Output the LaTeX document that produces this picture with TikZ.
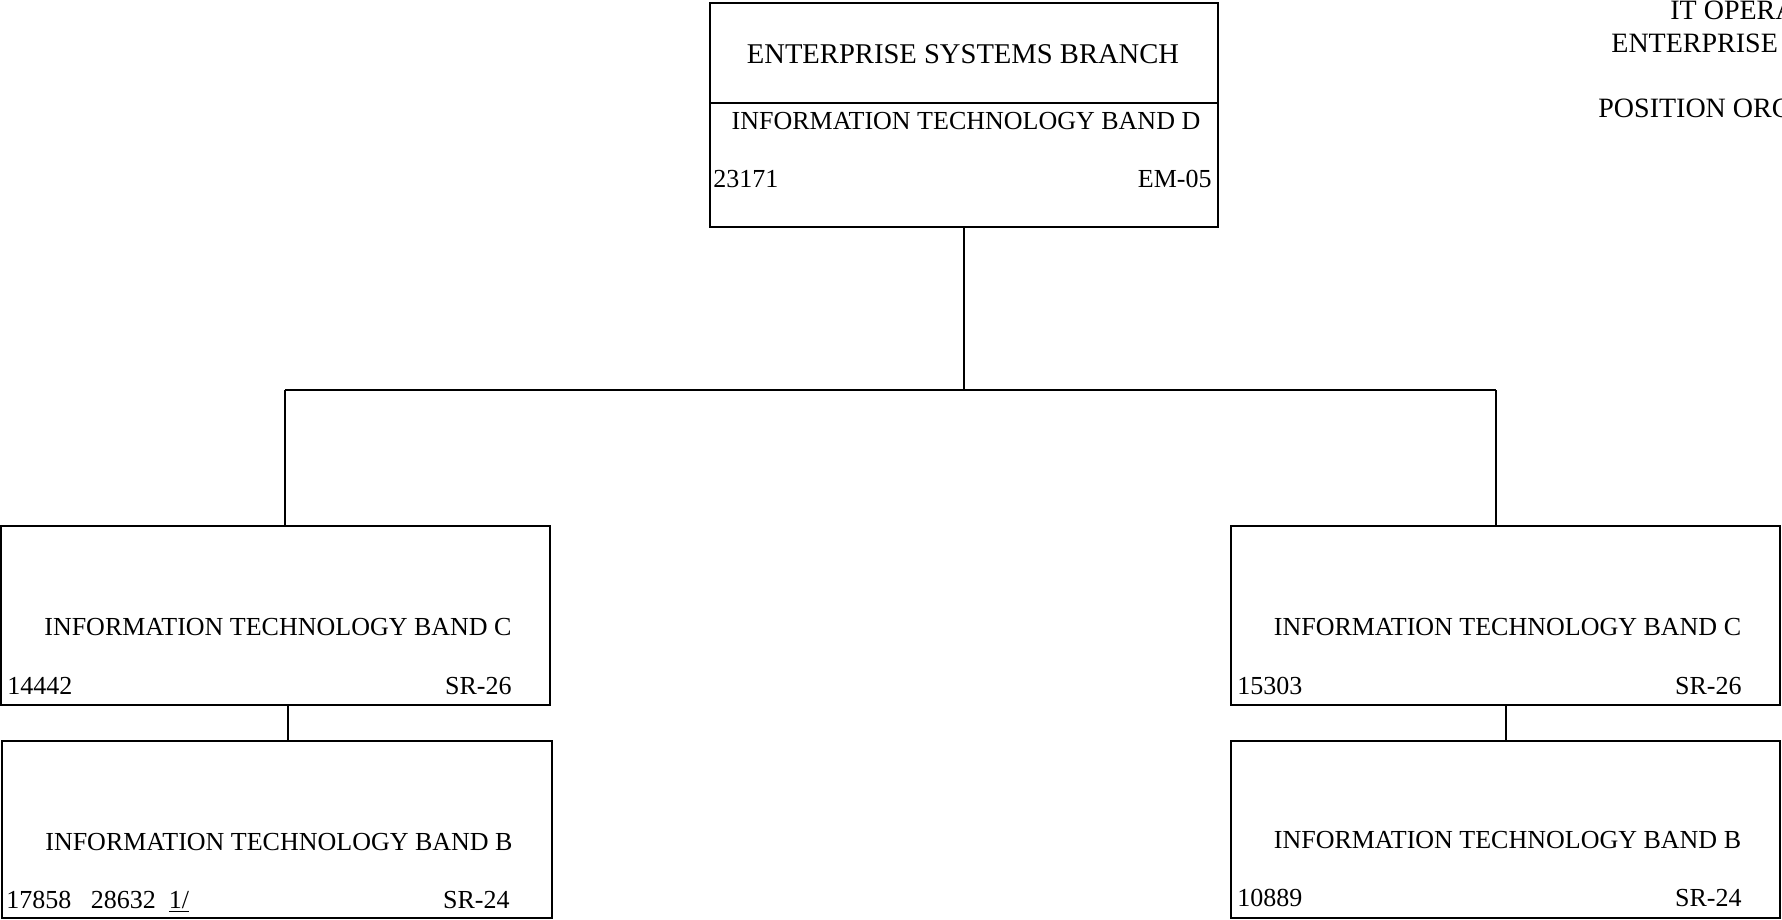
\documentclass[tikz,border=0pt]{standalone}
\usepackage{fontspec}
\setmainfont{Liberation Serif}
\begin{document}
\begin{tikzpicture}[x=0.5pt,y=-0.5pt,
  box/.style={draw, line width=0.9pt, inner sep=0pt, rectangle},
  lbl/.style={inner sep=0pt, font=\fontsize{13pt}{15pt}\selectfont},
  big/.style={inner sep=0pt, font=\fontsize{14pt}{16pt}\selectfont},
  title/.style={inner sep=0pt, font=\fontsize{14.3pt}{16pt}\selectfont},
  link/.style={line width=0.9pt}]
\useasboundingbox (0,0) rectangle (1782,920);
\clip (0,0) rectangle (1782,920);
% boxes
\node[box, minimum width=254pt, minimum height=112pt] (top) at (964,115) {};
\node[box, minimum width=274.5pt, minimum height=89.5pt] (cL) at (275.5,615.5) {};
\node[box, minimum width=275pt, minimum height=88.5pt] (bL) at (277,829.5) {};
\node[box, minimum width=274.5pt, minimum height=89.5pt] (cR) at (1505.5,615.5) {};
\node[box, minimum width=274.5pt, minimum height=88.5pt] (bR) at (1505.5,829.5) {};
% divider in top box
\coordinate (div) at (0,103);
\draw[link] (top.west |- div) -- (top.east |- div);
% top box texts
\node[title, anchor=base] (t1) at (963,64) {ENTERPRISE SYSTEMS BRANCH};
\node[lbl, anchor=base] (t2) at (966,129) {INFORMATION TECHNOLOGY BAND D};
\node[lbl, anchor=base west] (t3) at (713,187) {23171};
\node[lbl, anchor=base east] (t4) at (1212,187) {EM-05};
% left C
\node[lbl, anchor=base] (cLt) at (278,635) {INFORMATION TECHNOLOGY BAND C};
\node[lbl, anchor=base west] (cLn) at (7,694) {14442};
\node[lbl, anchor=base east] (cLg) at (512,694) {SR-26};
% left B
\node[lbl, anchor=base] (bLt) at (279,850) {INFORMATION TECHNOLOGY BAND B};
\node[lbl, anchor=base west] (bLn) at (6,908) {17858\ \ \ 28632\ \ \underline{1/}};
\node[lbl, anchor=base east] (bLg) at (510,908) {SR-24};
% right C
\node[lbl, anchor=base] (cRt) at (1507.5,635) {INFORMATION TECHNOLOGY BAND C};
\node[lbl, anchor=base west] (cRn) at (1237,694) {15303};
\node[lbl, anchor=base east] (cRg) at (1742,694) {SR-26};
% right B
\node[lbl, anchor=base] (bRt) at (1507.5,848) {INFORMATION TECHNOLOGY BAND B};
\node[lbl, anchor=base west] (bRn) at (1237,906) {10889};
\node[lbl, anchor=base east] (bRg) at (1742,906) {SR-24};
% title block (clipped at right edge, as in the reference)
\node[big, anchor=base west] (h1) at (1670,20) {IT OPERA};
\node[big, anchor=base west] (h2) at (1611,53) {ENTERPRISE};
\node[big, anchor=base west] (h3) at (1598,118) {POSITION ORG};
% connectors
\coordinate (busL) at (285,390);
\coordinate (busR) at (1496,390);
\coordinate (jL) at (288,0);
\coordinate (jR) at (1506,0);
\draw[link] (top.south) -- (top.south |- busL);
\draw[link] (busL) -- (busR);
\draw[link] (busL) -- (busL |- cL.north);
\draw[link] (busR) -- (busR |- cR.north);
\draw[link] (jL |- cL.south) -- (jL |- bL.north);
\draw[link] (jR |- cR.south) -- (jR |- bR.north);
\end{tikzpicture}
\end{document}
